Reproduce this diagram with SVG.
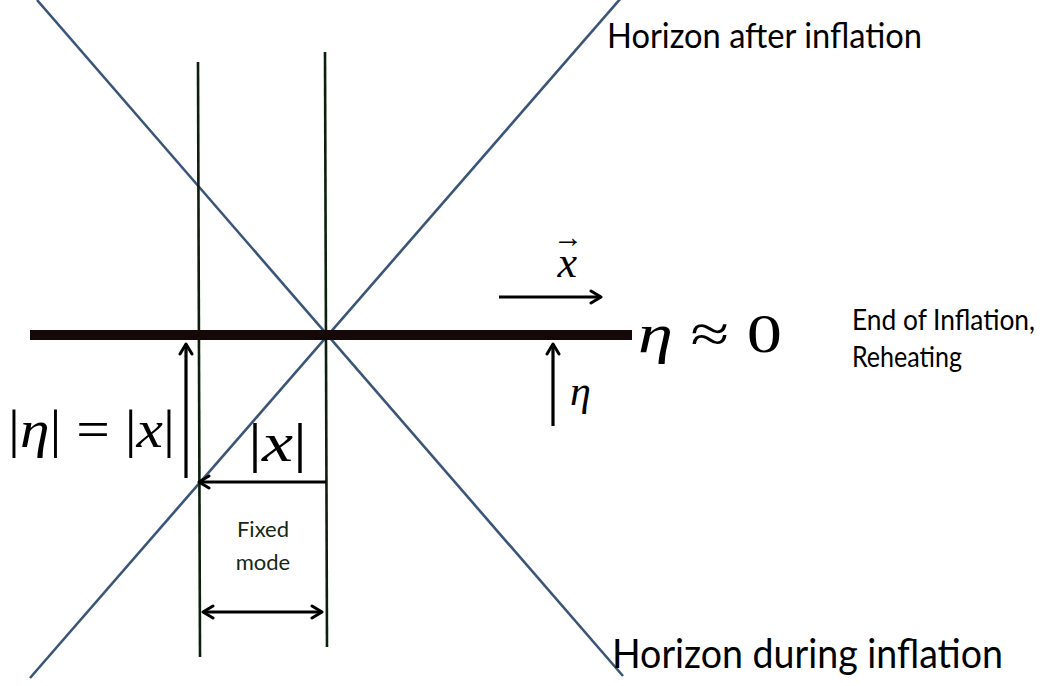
<svg xmlns="http://www.w3.org/2000/svg" width="1048" height="686" viewBox="0 0 1048 686">
<defs>
<style>
.horizon{stroke:#3a5578;stroke-width:2.6;fill:none}
.mode{stroke:#0c1f0c;stroke-width:2.6;fill:none}
.arr{stroke:#000;stroke-width:3.2;fill:none}
.lbl{font-family:Lato,"Open Sans","Liberation Sans",sans-serif;fill:#000}
.math{font-family:"Liberation Serif","DejaVu Serif",serif;fill:#000}
.it{font-style:italic}
</style>
<marker id="ah" viewBox="0 0 14 16" refX="12" refY="8" markerWidth="14" markerHeight="16" orient="auto-start-reverse" markerUnits="userSpaceOnUse">
<path d="M2,2 L12,8 L2,14" fill="none" stroke="#000" stroke-width="3" stroke-linecap="round" stroke-linejoin="round"/>
</marker>
</defs>
<rect width="1048" height="686" fill="#fff"/>

<g id="horizons">
<line class="horizon" x1="37" y1="0" x2="623" y2="676"/>
<line class="horizon" x1="30" y1="678" x2="621" y2="-2"/>
</g>

<g id="fixed-mode-lines">
<line class="mode" x1="198" y1="62" x2="200" y2="657"/>
<line class="mode" x1="325" y1="52" x2="327" y2="647"/>
</g>

<g id="reheating-surface">
<line x1="30" y1="335" x2="632" y2="335" stroke="#140808" stroke-width="10"/>
</g>

<g id="connectors">
<line class="arr" x1="499" y1="297" x2="601" y2="297" marker-end="url(#ah)"/>
<line class="arr" x1="553" y1="426" x2="553" y2="344" marker-end="url(#ah)"/>
<line class="arr" x1="186" y1="478" x2="186" y2="344" marker-end="url(#ah)"/>
<line class="arr" x1="326" y1="482" x2="199" y2="482" marker-end="url(#ah)"/>
<line class="arr" x1="203" y1="612" x2="322" y2="612" marker-start="url(#ah)" marker-end="url(#ah)"/>
</g>

<g id="labels">
<text class="lbl" x="607" y="48" font-size="35" textLength="315" lengthAdjust="spacingAndGlyphs">Horizon after inflation</text>
<text class="lbl" x="612" y="668" font-size="40" textLength="391" lengthAdjust="spacingAndGlyphs">Horizon during inflation</text>
<text class="lbl" x="852" y="330" font-size="28" textLength="183" lengthAdjust="spacingAndGlyphs">End of Inflation,</text>
<text class="lbl" x="852" y="367" font-size="29" textLength="110" lengthAdjust="spacingAndGlyphs">Reheating</text>
<text class="lbl" x="263" y="537" font-size="22" text-anchor="middle" style="fill:#142814">Fixed</text>
<text class="lbl" x="263" y="570" font-size="22" text-anchor="middle" style="fill:#142814">mode</text>
</g>

<g id="math">
<text class="math" x="8" y="447" font-size="52" textLength="167" lengthAdjust="spacingAndGlyphs">|<tspan class="it">η</tspan>| = |<tspan class="it">x</tspan>|</text>
<text class="math" x="248" y="461" font-size="54" textLength="59" lengthAdjust="spacingAndGlyphs">|<tspan class="it">x</tspan>|</text>
<text class="math" x="638" y="352" font-size="54" textLength="144" lengthAdjust="spacingAndGlyphs"><tspan class="it">η</tspan> ≈ 0</text>
<text class="math it" x="570" y="405" font-size="42">η</text>
<text class="math" x="553" y="277" font-size="44"><tspan class="it">x</tspan><tspan dx="-24" dy="-30" font-size="30">→</tspan></text>
</g>
</svg>
